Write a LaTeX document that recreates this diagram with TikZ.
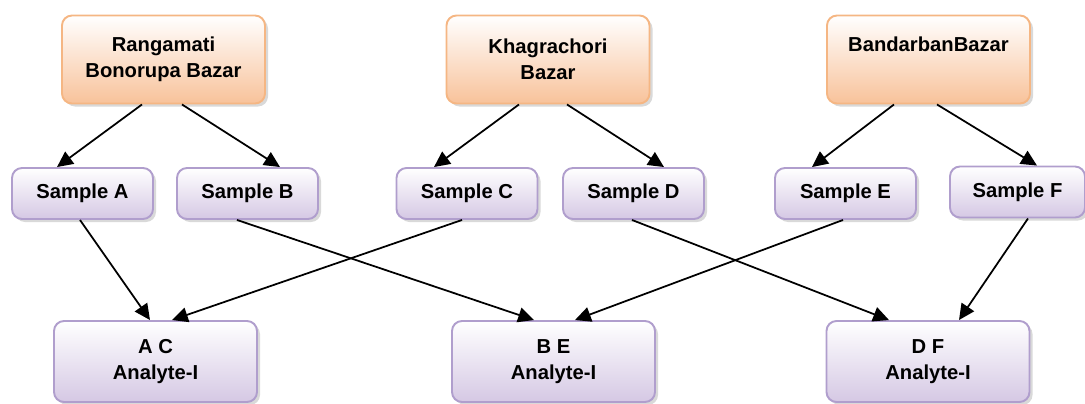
\documentclass[tikz,border=0pt]{standalone}
\usepackage{fontspec}
\setmainfont{Liberation Sans}
\usepackage{tikz}
\usetikzlibrary{arrows.meta}
\usetikzlibrary{positioning,shadows}
\definecolor{bazarline}{HTML}{F5B683}
\definecolor{bazarfill}{HTML}{F8C29A}
\definecolor{sampleline}{HTML}{B09ECD}
\definecolor{samplefill}{HTML}{D5C8E4}
\tikzset{
	node distance=2cm,
	every path/.style = {line width=1pt},
	every node/.style = {rectangle, rounded corners=0.2cm, align=center,
		font=\bfseries\fontsize{11.5}{15}\selectfont,
		drop shadow={opacity=0.3, shadow xshift=0.06cm, shadow yshift=-0.06cm}}
}
\begin{document}
\begin{tikzpicture}[bazar/.style={draw=bazarline, line width=1.1pt, top color=white, bottom color=bazarfill,
		minimum width=4.06cm, minimum height=1.76cm},
	sample/.style={draw=sampleline, line width=1.1pt, top color=white, bottom color=samplefill,
		minimum width=2.82cm, minimum height=1.02cm},
	analyte/.style={sample, minimum width=4.06cm, minimum height=1.62cm},
	link/.style={-{Triangle[length=9pt,width=8.5pt]}, black}]
	\useasboundingbox (0,0) rectangle (21.7,-8.08);
	\node (ranga) [bazar] at (3.27,-1.19) {Rangamati\\Bonorupa Bazar};
	\node (khag) [bazar] at (10.96,-1.19) {Khagrachori\\Bazar};
	\node (band) [bazar, text depth=0.62cm] at (18.57,-1.19) {BandarbanBazar};
	\node (sa) [sample] at (1.65,-3.87) {Sample A};
	\node (sb) [sample] at (4.95,-3.87) {Sample B};
	\node (sc) [sample] at (9.34,-3.87) {Sample C};
	\node (sd) [sample] at (12.67,-3.87) {Sample D};
	\node (se) [sample] at (16.91,-3.87) {Sample E};
	\node (sf) [sample, minimum width=2.7cm] at (20.35,-3.84) {Sample F};
	\node (ac) [analyte] at (3.11,-7.23) {A C\\Analyte-I};
	\node (be) [analyte] at (11.07,-7.23) {B E\\Analyte-I};
	\node (df) [analyte] at (18.56,-7.23) {D F\\Analyte-I};
	\draw [link] ([xshift=-0.43cm]ranga.south) -- ([xshift=-0.51cm]sa.north);
	\draw [link] ([xshift=0.37cm]ranga.south) -- ([xshift=0.65cm]sb.north);
	\draw [link] ([xshift=-0.58cm]khag.south) -- ([xshift=-0.66cm]sc.north);
	\draw [link] ([xshift=0.38cm]khag.south) -- ([xshift=0.61cm]sd.north);
	\draw [link] ([xshift=-0.69cm]band.south) -- ([xshift=-0.67cm]se.north);
	\draw [link] ([xshift=0.17cm]band.south) -- ([xshift=0.39cm]sf.north);
	\draw [link] ([xshift=-0.05cm]sa.south) -- ([xshift=-0.11cm]ac.north);
	\draw [link] ([xshift=-0.1cm]sc.south) -- ([xshift=0.33cm]ac.north);
	\draw [link] ([xshift=-0.21cm]sb.south) -- ([xshift=-0.39cm]be.north);
	\draw [link] ([xshift=-0.05cm]se.south) -- ([xshift=0.43cm]be.north);
	\draw [link] ([xshift=-0.03cm]sd.south) -- ([xshift=-0.78cm]df.north);
	\draw [link] ([xshift=0.21cm]sf.south) -- ([xshift=0.62cm]df.north);
\end{tikzpicture}
\end{document}
